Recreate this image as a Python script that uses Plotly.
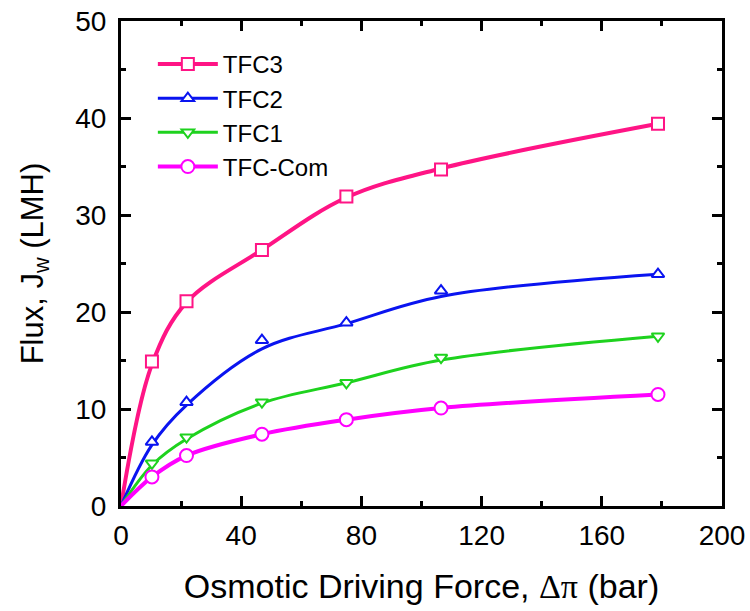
import plotly.graph_objects as go

# Driving force (bar) at measured points
x_force = [0, 10.3, 21.8, 46.9, 75.0, 106.5, 178.7]

# Measured flux values (markers)
tfc3_pts = [14.9, 21.1, 26.4, 31.9, 34.7, 39.4]
tfc2_pts = [6.6, 10.7, 17.1, 18.9, 22.2, 23.9]
tfc1_pts = [4.4, 7.1, 10.7, 12.7, 15.3, 17.5]
tfccom_pts = [3.0, 5.2, 7.4, 8.9, 10.1, 11.5]

# Fitted curve values at the same driving forces
tfc3_fit = [0, 14.6, 21.0, 26.4, 31.8, 34.8, 39.4]
tfc2_fit = [0, 6.3, 10.4, 16.2, 18.8, 21.6, 23.9]
tfc1_fit = [0, 4.2, 6.9, 10.6, 12.7, 15.05, 17.5]
tfccom_fit = [0, 3.0, 5.2, 7.4, 8.9, 10.1, 11.5]

series_names = ["TFC3", "TFC2", "TFC1", "TFC-Com"]
series_pts = [tfc3_pts, tfc2_pts, tfc1_pts, tfccom_pts]
series_fit = [tfc3_fit, tfc2_fit, tfc1_fit, tfccom_fit]
colors = ["#FF1485", "#0A14F0", "#1ED21E", "#FF00FF"]
symbols = ["square", "triangle-up", "triangle-down", "circle"]
line_widths = [4, 3, 3, 4]
marker_sizes = [12, 11, 11, 13]

FONT = "Liberation Sans, Arial, sans-serif"

fig = go.Figure()
# fitted lines
for name, fit, color, lw in zip(series_names, series_fit, colors, line_widths):
    fig.add_trace(go.Scatter(
        x=x_force, y=fit, mode="lines", showlegend=False,
        line=dict(color=color, width=lw, shape="spline", smoothing=1.0),
        hoverinfo="skip",
    ))
# measured markers
for name, pts, color, sym, ms in zip(series_names, series_pts, colors, symbols, marker_sizes):
    fig.add_trace(go.Scatter(
        x=x_force[1:], y=pts, mode="markers", showlegend=False, name=name,
        marker=dict(symbol=sym, size=ms, color="white", line=dict(width=2, color=color)),
    ))
# legend entries
for name, color, sym, lw, ms in zip(series_names, colors, symbols, line_widths, marker_sizes):
    fig.add_trace(go.Scatter(
        x=[None], y=[None], mode="lines+markers", name=name,
        line=dict(color=color, width=lw),
        marker=dict(symbol=sym, size=ms, color="white", line=dict(width=2, color=color)),
    ))

axis_common = dict(
    showline=True, linecolor="black", linewidth=3, mirror="allticks",
    ticks="inside", ticklen=10, tickwidth=3, tickcolor="black",
    showgrid=False, zeroline=False, automargin=False,
    tickfont=dict(family=FONT, size=28, color="black"),
)

fig.update_xaxes(
    range=[0, 200], tickmode="array", tickvals=[0, 40, 80, 120, 160, 200],
    minor=dict(tickvals=[20, 60, 100, 140, 180], ticks="inside", ticklen=5, tickwidth=3, tickcolor="black"),
    title=dict(
        text="Osmotic Driving Force, <span style='font-family:Liberation Serif'>Δπ</span> (bar)",
        font=dict(family=FONT, size=34, color="black"), standoff=25,
    ),
    ticklabelstandoff=2,
    **axis_common,
)
fig.update_yaxes(
    range=[0, 50], tickmode="array", tickvals=[0, 10, 20, 30, 40, 50],
    minor=dict(tickvals=[5, 15, 25, 35, 45], ticks="inside", ticklen=5, tickwidth=3, tickcolor="black"),
    title=dict(text="Flux, J<sub>w</sub> (LMH)", font=dict(family=FONT, size=31, color="black"), standoff=23),
    ticklabelstandoff=6,
    **axis_common,
)

fig.update_layout(
    width=750, height=611,
    margin=dict(l=121, r=28, t=21, b=105),
    plot_bgcolor="white", paper_bgcolor="white",
    showlegend=True,
    legend=dict(
        x=0.053, y=0.957, xanchor="left", yanchor="top",
        font=dict(family=FONT, size=24, color="black"),
        bgcolor="rgba(0,0,0,0)", itemwidth=60, tracegroupgap=0,
    ),
)

fig.write_html("out.html")
